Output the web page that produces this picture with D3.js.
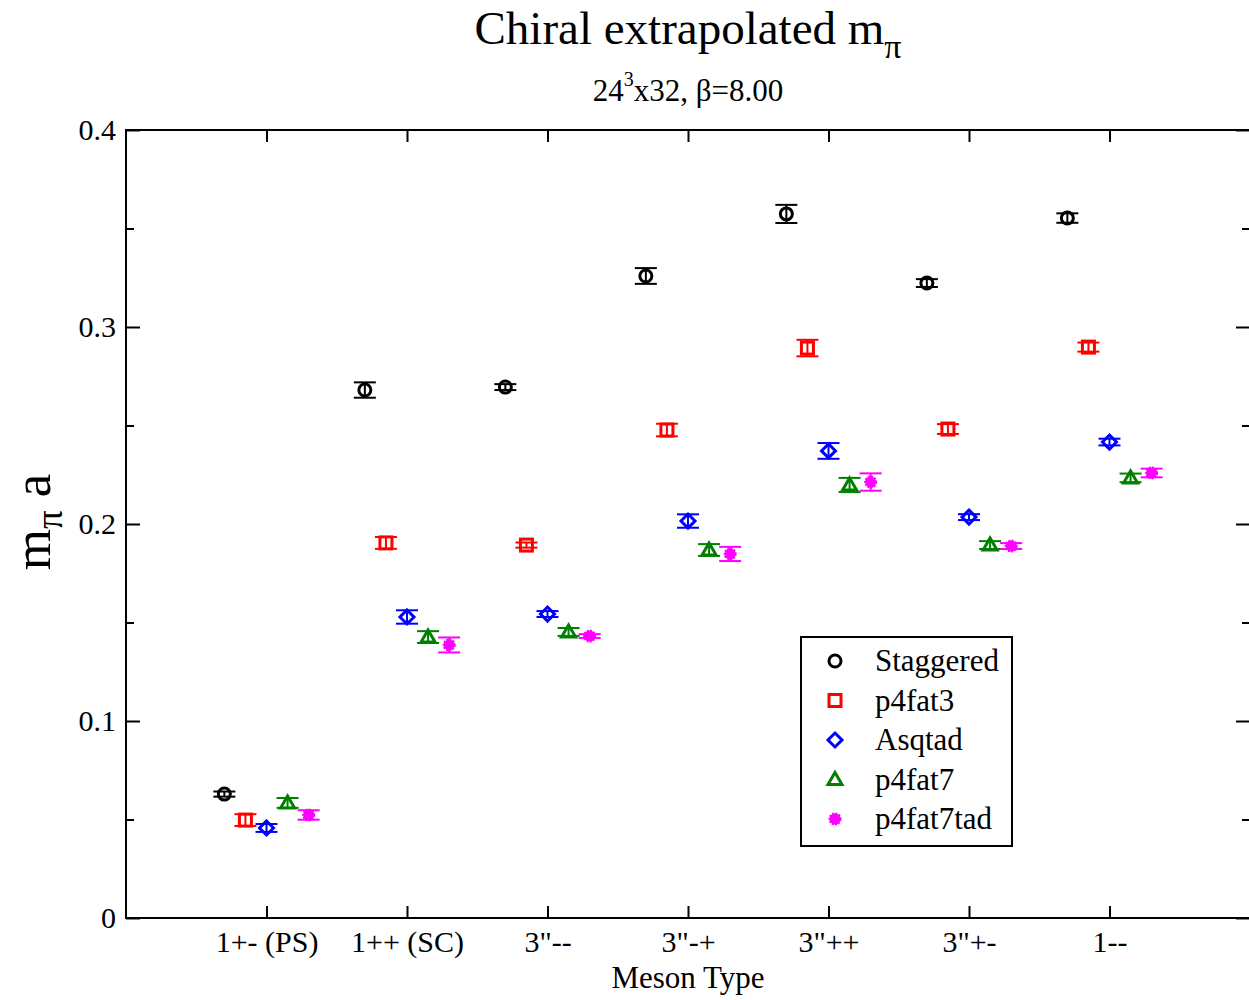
<!DOCTYPE html>
<html>
<head>
<meta charset="utf-8">
<script src="https://cdn.jsdelivr.net/npm/d3@7"></script>
<style>
  body { margin: 0; background: #fff; }
  text { font-family: "Liberation Serif", "Times New Roman", serif; }
</style>
</head>
<body>
<div id="chart"></div>
<script>
// meson channels on the x axis
const mesonTypes = ["1+- (PS)", "1++ (SC)", "3\"--", "3\"-+", "3\"++", "3\"+-", "1--"];
const seriesNames = ["Staggered", "p4fat3", "Asqtad", "p4fat7", "p4fat7tad"];

// values, one per meson type
const staggered     = [0.0629, 0.2680, 0.2695, 0.3259, 0.3574, 0.3223, 0.3553];
const staggeredErr  = [0.0013, 0.0039, 0.0015, 0.0040, 0.0046, 0.0020, 0.0024];
const p4fat3        = [0.0497, 0.1904, 0.1893, 0.2477, 0.2893, 0.2482, 0.2898];
const p4fat3Err     = [0.0030, 0.0030, 0.0013, 0.0032, 0.0042, 0.0025, 0.0023];
const asqtad        = [0.0457, 0.1528, 0.1543, 0.2015, 0.2371, 0.2035, 0.2416];
const asqtadErr     = [0.0020, 0.0034, 0.0015, 0.0034, 0.0040, 0.0015, 0.0017];
const p4fat7        = [0.0584, 0.1426, 0.1452, 0.1868, 0.2198, 0.1893, 0.2234];
const p4fat7Err     = [0.0025, 0.0030, 0.0020, 0.0030, 0.0036, 0.0020, 0.0022];
const p4fat7tad     = [0.0523, 0.1386, 0.1431, 0.1848, 0.2213, 0.1888, 0.2259];
const p4fat7tadErr  = [0.0024, 0.0038, 0.0010, 0.0036, 0.0044, 0.0015, 0.0022];

const yTicks = [0, 0.1, 0.2, 0.3, 0.4];
const yMinor = [0.05, 0.15, 0.25, 0.35];

const series = [
  { name: seriesNames[0], vals: staggered, errs: staggeredErr, color: "#000000", shape: "circle", off: -0.3 },
  { name: seriesNames[1], vals: p4fat3, errs: p4fat3Err, color: "#ff0000", shape: "square", off: -0.15 },
  { name: seriesNames[2], vals: asqtad, errs: asqtadErr, color: "#0000ff", shape: "diamond", off: 0 },
  { name: seriesNames[3], vals: p4fat7, errs: p4fat7Err, color: "#008000", shape: "triangle", off: 0.15 },
  { name: seriesNames[4], vals: p4fat7tad, errs: p4fat7tadErr, color: "#ff00ff", shape: "dot", off: 0.3 }
];

const width = 1249, height = 1000;
const margin = { top: 130, right: -1, bottom: 82, left: 126 };
const innerW = width - margin.left - margin.right;
const innerH = height - margin.top - margin.bottom;

const svg = d3.select("#chart").append("svg")
  .attr("width", width).attr("height", height);

const x = d3.scaleLinear().domain([0, 8]).range([margin.left, width - margin.right]);
const y = d3.scaleLinear().domain([0, 0.4]).range([height - margin.bottom, margin.top]);

// frame
svg.append("rect")
  .attr("x", margin.left).attr("y", margin.top)
  .attr("width", innerW).attr("height", innerH)
  .attr("fill", "none").attr("stroke", "#000").attr("stroke-width", 2);

// bottom axis
svg.append("g")
  .attr("transform", `translate(0,${y(0)})`)
  .call(d3.axisBottom(x).tickValues(d3.range(1, 8)).tickFormat(i => mesonTypes[i - 1])
    .tickSizeInner(-12).tickSizeOuter(0).tickPadding(13))
  .call(g => g.select(".domain").remove())
  .call(g => g.selectAll("line").attr("stroke-width", 2))
  .call(g => g.selectAll("text").attr("font-size", 30).attr("font-family", "Liberation Serif").attr("fill", "#000"));

// top axis ticks
svg.append("g")
  .attr("transform", `translate(0,${y(0.4)})`)
  .call(d3.axisTop(x).tickValues(d3.range(1, 8)).tickFormat("").tickSizeInner(-12).tickSizeOuter(0))
  .call(g => g.select(".domain").remove())
  .call(g => g.selectAll("line").attr("stroke-width", 2));

// left axis
svg.append("g")
  .attr("transform", `translate(${margin.left},0)`)
  .call(d3.axisLeft(y).tickValues(yTicks).tickFormat(d => d === 0 ? "0" : d3.format(".1f")(d))
    .tickSizeInner(-14).tickSizeOuter(0).tickPadding(10))
  .call(g => g.select(".domain").remove())
  .call(g => g.selectAll("line").attr("stroke-width", 2))
  .call(g => g.selectAll("text").attr("font-size", 30).attr("font-family", "Liberation Serif").attr("fill", "#000"));

svg.append("g")
  .attr("transform", `translate(${margin.left},0)`)
  .call(d3.axisLeft(y).tickValues(yMinor).tickFormat("").tickSizeInner(-8).tickSizeOuter(0))
  .call(g => g.select(".domain").remove())
  .call(g => g.selectAll("line").attr("stroke-width", 2));

// right axis ticks
const xr = width - margin.right;
svg.append("g")
  .attr("transform", `translate(${xr},0)`)
  .call(d3.axisRight(y).tickValues(yTicks).tickFormat("").tickSizeInner(-14).tickSizeOuter(0))
  .call(g => g.select(".domain").remove())
  .call(g => g.selectAll("line").attr("stroke-width", 2));
svg.append("g")
  .attr("transform", `translate(${xr},0)`)
  .call(d3.axisRight(y).tickValues(yMinor).tickFormat("").tickSizeInner(-8).tickSizeOuter(0))
  .call(g => g.select(".domain").remove())
  .call(g => g.selectAll("line").attr("stroke-width", 2));

// markers
function drawMarker(g, shape, color) {
  if (shape === "circle") {
    g.append("circle").attr("r", 6).attr("fill", "none").attr("stroke", color).attr("stroke-width", 3);
  } else if (shape === "square") {
    g.append("rect").attr("x", -6).attr("y", -6).attr("width", 12).attr("height", 12)
      .attr("fill", "none").attr("stroke", color).attr("stroke-width", 3);
  } else if (shape === "diamond") {
    g.append("path").attr("d", "M0,-7L7,0L0,7L-7,0Z")
      .attr("fill", "none").attr("stroke", color).attr("stroke-width", 3);
  } else if (shape === "triangle") {
    g.append("path").attr("d", "M0,-7L7,5L-7,5Z")
      .attr("fill", "none").attr("stroke", color).attr("stroke-width", 3);
  } else {
    g.append("circle").attr("r", 5.5)
      .attr("fill", color).attr("stroke", color).attr("stroke-width", 2)
      .attr("stroke-dasharray", "2,1.2");
  }
}

const plot = svg.append("g");
series.forEach(s => {
  s.vals.forEach((v, i) => {
    const cx = x(i + 1 + s.off);
    const e = s.errs[i];
    const g = plot.append("g");
    g.append("line").attr("x1", cx).attr("x2", cx).attr("y1", y(v - e)).attr("y2", y(v + e))
      .attr("stroke", s.color).attr("stroke-width", 2);
    [v - e, v + e].forEach(t => {
      g.append("line").attr("x1", cx - 11).attr("x2", cx + 11).attr("y1", y(t)).attr("y2", y(t))
        .attr("stroke", s.color).attr("stroke-width", 2);
    });
    const m = g.append("g").attr("transform", `translate(${cx},${y(v)})`);
    drawMarker(m, s.shape, s.color);
  });
});

// legend
const legend = svg.append("g").attr("transform", "translate(801,637)");
legend.append("rect").attr("width", 211).attr("height", 209)
  .attr("fill", "#fff").attr("stroke", "#000").attr("stroke-width", 2);
series.forEach((s, i) => {
  const row = legend.append("g").attr("transform", `translate(34,${24 + i * 39.5})`);
  drawMarker(row.append("g"), s.shape, s.color);
  row.append("text").attr("x", 40).attr("y", 10).attr("font-size", 31).text(s.name);
});

// titles
const title = svg.append("text").attr("x", 688).attr("y", 44)
  .attr("text-anchor", "middle").attr("font-size", 47);
title.append("tspan").text("Chiral extrapolated m");
title.append("tspan").attr("dy", 14).attr("font-size", 34).text("π");

const sub = svg.append("text").attr("x", 688).attr("y", 101)
  .attr("text-anchor", "middle").attr("font-size", 31);
sub.append("tspan").text("24");
sub.append("tspan").attr("dy", -15).attr("font-size", 20).text("3");
sub.append("tspan").attr("dy", 15).text("x32, β=8.00");

svg.append("text").attr("x", 688).attr("y", 988)
  .attr("text-anchor", "middle").attr("font-size", 31).text("Meson Type");

const ylab = svg.append("text").attr("transform", "translate(50,522) rotate(-90)")
  .attr("text-anchor", "middle").attr("font-size", 53);
ylab.append("tspan").text("m");
ylab.append("tspan").attr("dy", 12).attr("font-size", 37).text("π");
ylab.append("tspan").attr("dy", -12).text(" a");
</script>
</body>
</html>
